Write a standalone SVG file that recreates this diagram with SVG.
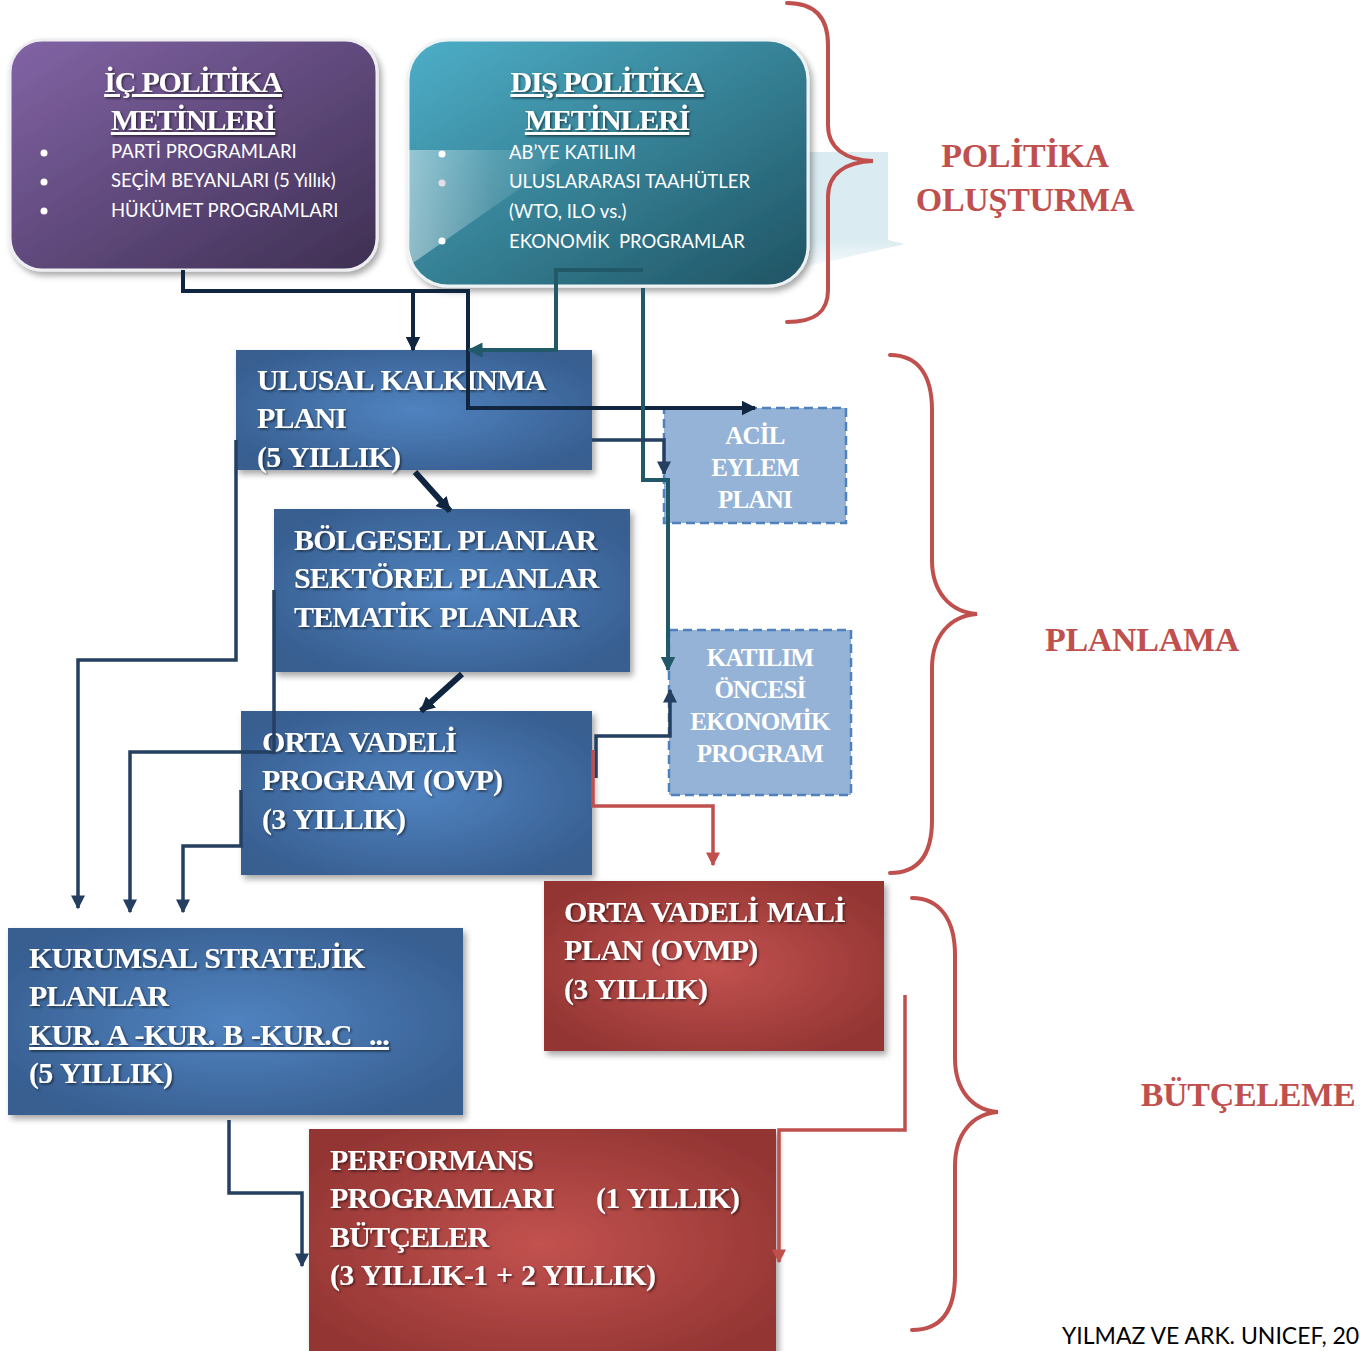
<svg xmlns="http://www.w3.org/2000/svg" width="1360" height="1351" viewBox="0 0 1360 1351">
<defs>
<linearGradient id="gPurple" x1="0" y1="0" x2="1" y2="1">
<stop offset="0" stop-color="#8264A6"/><stop offset="1" stop-color="#3E2F52"/>
</linearGradient>
<linearGradient id="gTeal" x1="0" y1="0" x2="1" y2="1">
<stop offset="0" stop-color="#4DAFC8"/><stop offset="1" stop-color="#1F5363"/>
</linearGradient>
<radialGradient id="gBlue" cx="0.5" cy="0.5" r="0.6">
<stop offset="0" stop-color="#5083C0"/><stop offset="1" stop-color="#375E90"/>
</radialGradient>
<radialGradient id="gRed" cx="0.5" cy="0.5" r="0.6">
<stop offset="0" stop-color="#C2524F"/><stop offset="1" stop-color="#933533"/>
</radialGradient>
<linearGradient id="gBeam" x1="0" y1="0" x2="1" y2="0">
<stop offset="0" stop-color="#ffffff" stop-opacity="0.45"/><stop offset="0.5" stop-color="#ffffff" stop-opacity="0.15"/><stop offset="1" stop-color="#ffffff" stop-opacity="0"/>
</linearGradient>
<linearGradient id="gBand" x1="0" y1="0" x2="0" y2="1">
<stop offset="0" stop-color="#DAEBF1"/><stop offset="0.75" stop-color="#DAEBF1"/><stop offset="1" stop-color="#DAEBF1" stop-opacity="0.2"/>
</linearGradient>
<filter id="shadow" x="-10%" y="-10%" width="125%" height="130%">
<feDropShadow dx="3" dy="4" stdDeviation="3" flood-color="#000" flood-opacity="0.35"/>
</filter>
<filter id="tshadow" x="-5%" y="-20%" width="115%" height="150%">
<feDropShadow dx="1.5" dy="1.5" stdDeviation="1" flood-color="#000" flood-opacity="0.55"/>
</filter>
<marker id="aNavy" viewBox="0 0 10 10" refX="9" refY="5" markerUnits="userSpaceOnUse" markerWidth="15" markerHeight="15" orient="auto">
<path d="M0,0 L10,5 L0,10 z" fill="#10253F"/>
</marker>
<marker id="aBlue" viewBox="0 0 10 10" refX="9" refY="5" markerUnits="userSpaceOnUse" markerWidth="14" markerHeight="14" orient="auto">
<path d="M0,0 L10,5 L0,10 z" fill="#243F60"/>
</marker>
<marker id="aTeal" viewBox="0 0 10 10" refX="9" refY="5" markerUnits="userSpaceOnUse" markerWidth="15" markerHeight="15" orient="auto">
<path d="M0,0 L10,5 L0,10 z" fill="#215968"/>
</marker>
<marker id="aRed" viewBox="0 0 10 10" refX="9" refY="5" markerUnits="userSpaceOnUse" markerWidth="14" markerHeight="14" orient="auto">
<path d="M0,0 L10,5 L0,10 z" fill="#C0504D"/>
</marker>
</defs>
<style>
.serif{font-family:"Liberation Serif","Times New Roman",serif;font-weight:bold;fill:#fff}
.sans{font-family:Lato,"Liberation Sans",sans-serif;fill:#fff}
.big{font-size:30px;letter-spacing:-0.85px;word-spacing:2px}
.mid{font-size:25px;letter-spacing:-0.8px}
.title{font-size:30px;letter-spacing:-1.2px;text-decoration:underline}
.bul{font-size:18.5px}
.side{font-family:"Liberation Serif","Times New Roman",serif;font-weight:bold;fill:#C0504D;font-size:34px;letter-spacing:-0.3px}
.brace{fill:none;stroke:#C0504D;stroke-width:4;stroke-linecap:round}
.ln{fill:none;stroke-linejoin:miter}
.navy{stroke:#10253F;stroke-width:4}
.blue{stroke:#243F60;stroke-width:3.5}
.teal{stroke:#215968;stroke-width:4}
.red{stroke:#C0504D;stroke-width:3.5}
.dash{fill:#95B3D7;stroke:#4F81BD;stroke-width:2.5;stroke-dasharray:9 5}
</style>
<rect width="1360" height="1351" fill="#fff"/>

<!-- reflection band -->
<polygon points="800,152 888,152 888,240 905,244 800,268" fill="url(#gBand)"/>

<g id="ic-politika">
<rect x="10" y="40" width="367" height="230" rx="32" fill="url(#gPurple)" stroke="#EEEEF2" stroke-width="3" filter="url(#shadow)"/>
<text class="serif title" x="193" y="92" text-anchor="middle" filter="url(#tshadow)">İÇ POLİTİKA</text>
<text class="serif title" x="193" y="130" text-anchor="middle" filter="url(#tshadow)">METİNLERİ</text>
<circle cx="44" cy="153" r="3.5" fill="#fff"/><circle cx="44" cy="182" r="3.5" fill="#fff"/><circle cx="44" cy="211" r="3.5" fill="#fff"/>
<text class="sans bul" x="111" y="158">PARTİ PROGRAMLARI</text>
<text class="sans bul" x="111" y="187">SEÇİM BEYANLARI (5 Yıllık)</text>
<text class="sans bul" x="111" y="217">HÜKÜMET PROGRAMLARI</text>
</g>

<g id="dis-politika">
<rect x="408" y="40" width="400" height="246" rx="40" fill="url(#gTeal)" stroke="#EEF3F5" stroke-width="3" filter="url(#shadow)"/>
<polygon points="408,150 575,150 410,265" fill="url(#gBeam)"/>
<text class="serif title" x="607" y="92" text-anchor="middle" filter="url(#tshadow)">DIŞ POLİTİKA</text>
<text class="serif title" x="607" y="130" text-anchor="middle" filter="url(#tshadow)">METİNLERİ</text>
<circle cx="442" cy="154" r="3.5" fill="#fff"/><circle cx="442" cy="183" r="3.5" fill="#E6DDE8"/><circle cx="442" cy="241" r="3.5" fill="#fff"/>
<text class="sans bul" x="509" y="159">AB’YE KATILIM</text>
<text class="sans bul" x="509" y="188">ULUSLARARASI TAAHÜTLER</text>
<text class="sans bul" x="509" y="218">(WTO, ILO vs.)</text>
<text class="sans bul" x="509" y="248" xml:space="preserve">EKONOMİK  PROGRAMLAR</text>
</g>

<g id="ulusal-kalkinma">
<rect x="236" y="350" width="356" height="120" fill="url(#gBlue)" filter="url(#shadow)"/>
<g filter="url(#tshadow)">
<text class="serif big" x="257" y="390">ULUSAL KALKINMA</text>
<text class="serif big" x="257" y="428">PLANI</text>
<text class="serif big" x="257" y="467">(5 YILLIK)</text>
</g>
</g>

<g id="bolgesel">
<rect x="274" y="509" width="356" height="163" fill="url(#gBlue)" filter="url(#shadow)"/>
<g filter="url(#tshadow)">
<text class="serif big" x="294" y="550">BÖLGESEL PLANLAR</text>
<text class="serif big" x="294" y="588">SEKTÖREL PLANLAR</text>
<text class="serif big" x="294" y="627">TEMATİK PLANLAR</text>
</g>
</g>

<g id="ovp">
<rect x="241" y="711" width="351" height="164" fill="url(#gBlue)" filter="url(#shadow)"/>
<g filter="url(#tshadow)">
<text class="serif big" x="262" y="752">ORTA VADELİ</text>
<text class="serif big" x="262" y="790">PROGRAM (OVP)</text>
<text class="serif big" x="262" y="829">(3 YILLIK)</text>
</g>
</g>

<g id="acil-eylem">
<rect class="dash" x="664" y="408" width="182" height="115"/>
<text class="serif mid" x="755" y="444" text-anchor="middle">ACİL</text>
<text class="serif mid" x="755" y="476" text-anchor="middle">EYLEM</text>
<text class="serif mid" x="755" y="508" text-anchor="middle">PLANI</text>
</g>

<g id="katilim-oncesi">
<rect class="dash" x="669" y="630" width="182" height="165"/>
<text class="serif mid" x="760" y="666" text-anchor="middle">KATILIM</text>
<text class="serif mid" x="760" y="698" text-anchor="middle">ÖNCESİ</text>
<text class="serif mid" x="760" y="730" text-anchor="middle">EKONOMİK</text>
<text class="serif mid" x="760" y="762" text-anchor="middle">PROGRAM</text>
</g>

<g id="kurumsal">
<rect x="8" y="928" width="455" height="187" fill="url(#gBlue)" filter="url(#shadow)"/>
<g filter="url(#tshadow)">
<text class="serif big" x="29" y="968">KURUMSAL STRATEJİK</text>
<text class="serif big" x="29" y="1006">PLANLAR</text>
<text class="serif big" x="29" y="1045" text-decoration="underline" xml:space="preserve">KUR. A -KUR. B -KUR.C  ...</text>
<text class="serif big" x="29" y="1083">(5 YILLIK)</text>
</g>
</g>

<g id="ovmp">
<rect x="544" y="881" width="340" height="170" fill="url(#gRed)" filter="url(#shadow)"/>
<g filter="url(#tshadow)">
<text class="serif big" x="564" y="922">ORTA VADELİ MALİ</text>
<text class="serif big" x="564" y="960">PLAN (OVMP)</text>
<text class="serif big" x="564" y="999">(3 YILLIK)</text>
</g>
</g>

<g id="performans">
<rect x="309" y="1129" width="467" height="230" fill="url(#gRed)" filter="url(#shadow)"/>
<g filter="url(#tshadow)">
<text class="serif big" x="330" y="1170">PERFORMANS</text>
<text class="serif big" x="330" y="1208">PROGRAMLARI</text>
<text class="serif big" x="596" y="1208">(1 YILLIK)</text>
<text class="serif big" x="330" y="1247">BÜTÇELER</text>
<text class="serif big" x="330" y="1285">(3 YILLIK-1 + 2 YILLIK)</text>
</g>
</g>

<g id="connectors">
<polyline class="ln navy" points="183,270 183,291 468,291 468,408 755,408" marker-end="url(#aNavy)"/>
<polyline class="ln navy" points="413,291 413,350" marker-end="url(#aNavy)"/>
<polyline class="ln teal" points="643,270 556,270 556,350 469,350" marker-end="url(#aTeal)"/>
<polyline class="ln teal" points="643,288 643,480 668,480 668,670" marker-end="url(#aTeal)"/>
<polyline class="ln blue" points="592,440 664,440 664,474" marker-end="url(#aBlue)"/>
<line class="ln navy" style="stroke-width:6" x1="415" y1="472" x2="450" y2="511" marker-end="url(#aNavy)"/>
<line class="ln navy" style="stroke-width:6" x1="462" y1="674" x2="421" y2="711" marker-end="url(#aNavy)"/>
<polyline class="ln blue" points="236,440 236,660 78,660 78,908" marker-end="url(#aBlue)"/>
<polyline class="ln blue" points="274,590 274,752 130,752 130,912" marker-end="url(#aBlue)"/>
<polyline class="ln blue" points="241,790 241,846 183,846 183,912" marker-end="url(#aBlue)"/>
<polyline class="ln blue" points="596,778 596,736 670,736 670,690" marker-end="url(#aBlue)"/>
<polyline class="ln red" points="593,750 593,806 713,806 713,865" marker-end="url(#aRed)"/>
<polyline class="ln red" points="905,995 905,1130 779,1130 779,1262" marker-end="url(#aRed)"/>
<polyline class="ln blue" points="229,1120 229,1193 302,1193 302,1266" marker-end="url(#aBlue)"/>
</g>

<g id="braces">
<path class="brace" d="M787,3 C815,3 828,18 828,45 L828,125 C828,148 845,160 873,161 C845,162 828,174 828,197 L828,290 C828,312 815,322 787,322"/>
<path class="brace" d="M890,355 C918,355 932,375 932,410 L932,560 C932,592 950,612 977,614 C950,616 932,636 932,668 L932,820 C932,855 918,873 890,873"/>
<path class="brace" d="M912,898 C940,898 955,920 955,955 L955,1058 C955,1090 972,1110 998,1112 C972,1114 955,1134 955,1166 L955,1275 C955,1312 940,1330 912,1330"/>
</g>

<g id="labels">
<text class="side" x="1025" y="167" text-anchor="middle">POLİTİKA</text>
<text class="side" x="1025" y="211" text-anchor="middle">OLUŞTURMA</text>
<text class="side" x="1142" y="651" text-anchor="middle">PLANLAMA</text>
<text class="side" x="1248" y="1106" text-anchor="middle">BÜTÇELEME</text>
<text x="1062" y="1344" font-family="Lato,'Liberation Sans',sans-serif" font-size="23" fill="#000">YILMAZ VE ARK. UNICEF, 20</text>
</g>
</svg>
